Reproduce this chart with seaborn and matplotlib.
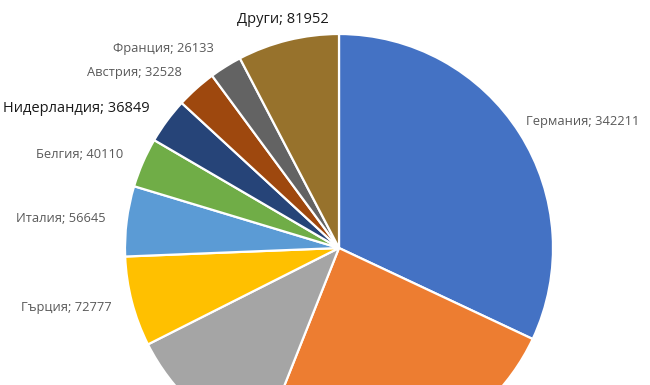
import numpy as np
import matplotlib.pyplot as plt
import seaborn as sns

# countries (clockwise from 12 o'clock) and visitors
countries = ["Германия", "Румъния", "Турция", "Гърция", "Италия", "Белгия",
             "Нидерландия", "Австрия", "Франция", "Други"]
visitors = [342211, 257000, 123500, 72777, 56645, 40110, 36849, 32528, 26133, 81952]
# labels drawn larger/darker in the original
big_labels = ["Нидерландия", "Други"]

colors = ["#4472C4", "#ED7D31", "#A5A5A5", "#FFC000", "#5B9BD5",
          "#70AD47", "#264478", "#9E480E", "#636363", "#97722C"]

sns.set_theme(style="white")
plt.rcParams['font.family'] = ['Open Sans', 'DejaVu Sans']

fig = plt.figure(figsize=(6.5, 3.85), dpi=100)
ax = fig.add_axes([0, 0, 1, 1])

# work in pixel units so the pie sits where it does in the picture (bottom is cropped)
cx, cy, r = 339, 385 - 248, 214
wedges, _ = ax.pie(
    visitors,
    colors=sns.color_palette(colors),
    startangle=90,
    counterclock=False,
    center=(cx, cy),
    radius=r,
    wedgeprops=dict(edgecolor="white", linewidth=1.6),
)

for w, name, val in zip(wedges, countries, visitors):
    mid = np.deg2rad((w.theta1 + w.theta2) / 2)
    c = np.cos(mid)
    kx = 1.035 if c > 0.3 else 1.1
    x = cx + kx * r * c
    y = cy + 1.1 * r * np.sin(mid)
    if y < 0:
        continue  # label falls below the cropped picture
    ha = "left" if c > 0.3 else ("right" if c < -0.3 else "center")
    if name in big_labels:
        ax.text(x, y, f"{name}; {val}", ha=ha, va="center", fontsize=10.5, color="#1a1a1a")
    else:
        ax.text(x, y, f"{name}; {val}", ha=ha, va="center", fontsize=9.3, color="#595959")

ax.set_xlim(0, 650)
ax.set_ylim(0, 385)
ax.set_aspect("equal")
ax.axis("off")

fig.savefig("out.png", dpi=100)
